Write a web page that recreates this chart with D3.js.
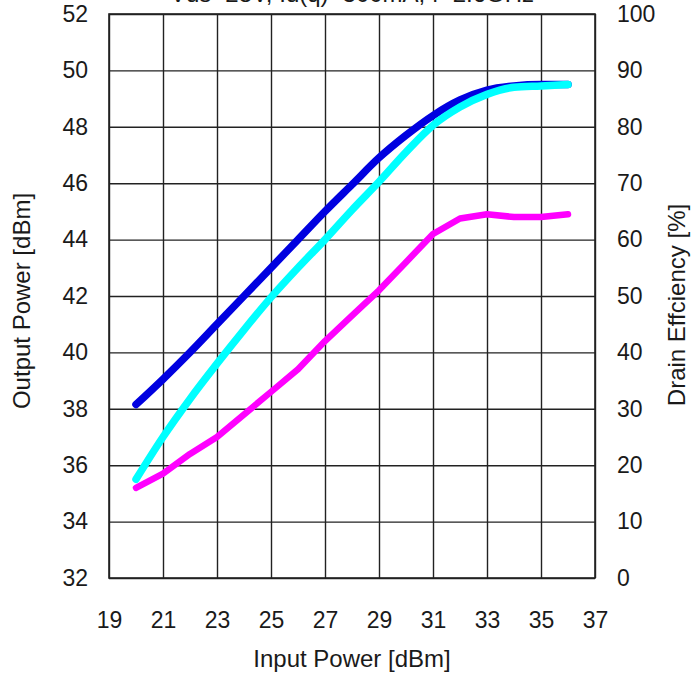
<!DOCTYPE html>
<html><head><meta charset="utf-8">
<script src="https://cdn.jsdelivr.net/npm/d3@7"></script>
<style>
body{margin:0;background:#fff}
svg{display:block}
text{font-family:"Liberation Sans",Arial,sans-serif;fill:#1a1a1a}
</style>
</head><body>
<svg id="c" width="697" height="674"></svg>
<script>
// ---- data ----
const inputPower   = [20,21,22,23,24,25,26,27,28,29,30,31,32,33,34,35,36];
const outputPowerA = [38.15,39.05,40.0,41.0,42.0,43.0,44.0,45.0,45.95,46.9,47.7,48.4,48.95,49.3,49.45,49.5,49.5]; // blue
const outputPowerB = [35.5,37.0,38.35,39.6,40.8,41.95,43.0,44.0,45.05,46.05,47.1,48.05,48.7,49.15,49.4,49.45,49.5]; // cyan
const drainEff     = [16,18.5,22,25,29,33,37,42,46.5,51,56,61,63.75,64.5,64,64,64.5]; // magenta, right axis
const xTicks  = [19,21,23,25,27,29,31,33,35,37];
const yLTicks = [32,34,36,38,40,42,44,46,48,50,52];
const yRTicks = [0,10,20,30,40,50,60,70,80,90,100];
const titleText = "Vds=28V, Id(q)=300mA, f=2.6GHz";
const xTitle = "Input Power [dBm]";
const yLTitle = "Output Power [dBm]";
const yRTitle = "Drain Effciency [%]";

// ---- layout ----
const L = 109, R = 595, T = 14, B = 578;
const svg = d3.select("#c");
const x  = d3.scaleLinear().domain([19,37]).range([L,R]);
const yL = d3.scaleLinear().domain([32,52]).range([B,T]);
const yR = d3.scaleLinear().domain([0,100]).range([B,T]);
const gridColor = "#222";
const FS = 23;

// vertical grid + bottom labels
const gx = svg.append("g").attr("transform",`translate(0,${B})`)
  .call(d3.axisBottom(x).tickValues(xTicks).tickSize(-(B-T)).tickPadding(34).tickFormat(d3.format("d")));
gx.select(".domain").remove();
gx.selectAll("line").attr("stroke",gridColor).attr("stroke-width",1.4);
gx.selectAll("text").attr("font-size",FS).attr("fill","#1a1a1a");

// horizontal grid + left labels
const gy = svg.append("g").attr("transform",`translate(${L},0)`)
  .call(d3.axisLeft(yL).tickValues(yLTicks).tickSize(-(R-L)).tickPadding(21).tickFormat(d3.format("d")));
gy.select(".domain").remove();
gy.selectAll("line").attr("stroke",gridColor).attr("stroke-width",1.4);
gy.selectAll("text").attr("font-size",FS).attr("fill","#1a1a1a");

// right labels
const gr = svg.append("g").attr("transform",`translate(${R},0)`)
  .call(d3.axisRight(yR).tickValues(yRTicks).tickSize(0).tickPadding(22).tickFormat(d3.format("d")));
gr.select(".domain").remove();
gr.selectAll("text").attr("font-size",FS).attr("fill","#1a1a1a");

// frame
svg.append("rect").attr("x",L).attr("y",T).attr("width",R-L).attr("height",B-T)
  .attr("fill","none").attr("stroke",gridColor).attr("stroke-width",1.6);

// lines
const lineL = d3.line().x((d,i)=>x(inputPower[i])).y(d=>yL(d)).curve(d3.curveMonotoneX);
const lineR = d3.line().x((d,i)=>x(inputPower[i])).y(d=>yR(d));
svg.append("path").datum(outputPowerA).attr("d",lineL).attr("fill","none")
  .attr("stroke","#0000e0").attr("stroke-width",7.5).attr("stroke-linecap","round").attr("stroke-linejoin","round");
svg.append("path").datum(outputPowerB).attr("d",lineL).attr("fill","none")
  .attr("stroke","#00ffff").attr("stroke-width",7.5).attr("stroke-linecap","round").attr("stroke-linejoin","round");
svg.append("path").datum(drainEff).attr("d",lineR).attr("fill","none")
  .attr("stroke","#ff00ff").attr("stroke-width",6.5).attr("stroke-linecap","round").attr("stroke-linejoin","round");

// titles (the chart title is cut off at the top edge in the reference)
svg.append("text").attr("x",352).attr("y",1.5).attr("text-anchor","middle").attr("font-size",24).text(titleText);
svg.append("text").attr("x",352).attr("y",667).attr("text-anchor","middle").attr("font-size",24).text(xTitle);
svg.append("text").attr("transform","translate(30,301) rotate(-90)").attr("text-anchor","middle").attr("font-size",24).text(yLTitle);
svg.append("text").attr("transform","translate(685,305) rotate(-90)").attr("text-anchor","middle").attr("font-size",24).text(yRTitle);
</script>
</body></html>
